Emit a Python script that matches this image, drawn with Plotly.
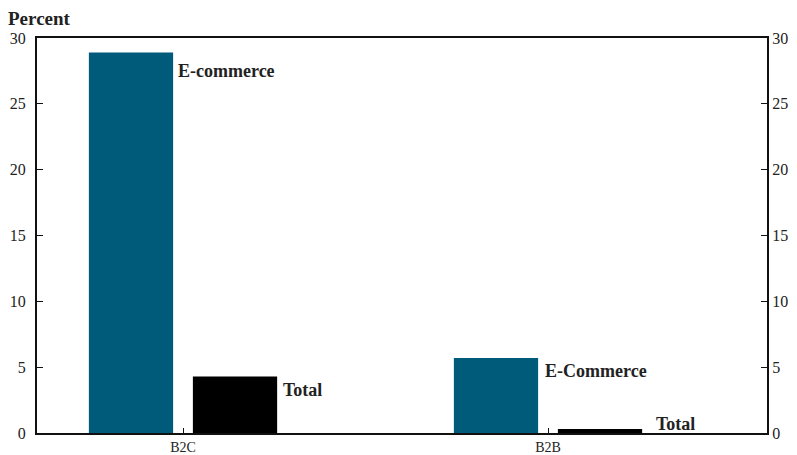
import plotly.graph_objects as go

categories = ["B2C", "B2B"]
ecommerce = [28.9, 5.7]
total = [4.3, 0.3]
bar_labels_ecom = ["E-commerce", "E-Commerce"]
bar_labels_total = ["Total", "Total"]
y_ticks = [0, 5, 10, 15, 20, 25, 30]

TEAL = "#005b7b"
FONT = "Liberation Serif"

fig = go.Figure()
fig.add_trace(go.Bar(x=categories, y=ecommerce, marker_color=TEAL, marker_line_width=0, name="E-commerce"))
fig.add_trace(go.Bar(x=categories, y=total, marker_color="#000000", marker_line_width=0, name="Total"))
fig.add_trace(go.Scatter(x=categories, y=[0, 0], yaxis="y2", mode="none", hoverinfo="skip", showlegend=False))

ann = []
for i, (lab, v) in enumerate(zip(bar_labels_ecom, ecommerce)):
    ann.append(dict(x=i - (0.02 if i == 0 else 0.015), y=v, xref="x", yref="y", text="<b>%s</b>" % lab,
                    showarrow=False, xanchor="left", yanchor="top", yshift=(-7 if i == 0 else -1),
                    font=dict(family=FONT, size=18, color="#222")))
for i, (lab, v) in enumerate(zip(bar_labels_total, total)):
    dx = 0.268 if i == 0 else 0.29
    ann.append(dict(x=i + dx, y=v, xref="x", yref="y", text="<b>%s</b>" % lab, showarrow=False,
                    xanchor="left", yanchor="top", yshift=(-2 if i == 0 else 17),
                    font=dict(family=FONT, size=18, color="#222")))
ann.append(dict(x=-0.042, y=1.05, xref="paper", yref="paper", text="<b>Percent</b>", showarrow=False,
                xanchor="left", yanchor="middle", font=dict(family=FONT, size=19, color="#222")))

# page body has an 8px default margin, so the figure is sized to fit the 797x455 window
fig.update_layout(
    width=789, height=447,
    margin=dict(l=29, r=30, t=30, b=22, autoexpand=False),
    paper_bgcolor="white", plot_bgcolor="white",
    barmode="group", bargap=0.43, bargroupgap=0.19,
    showlegend=False,
    font=dict(family=FONT, size=15, color="#222"),
    annotations=ann,
    xaxis=dict(range=[-0.4, 1.6], showline=True, linecolor="#111", linewidth=2, mirror=True,
               ticks="inside", ticklen=5, tickwidth=1, tickcolor="#111", automargin=False,
               tickfont=dict(family=FONT, size=14, color="#222"), showgrid=False, fixedrange=True),
    yaxis=dict(range=[0, 30], tickvals=y_ticks, showline=True, linecolor="#111", linewidth=2,
               ticks="inside", ticklen=6, tickwidth=1, tickcolor="#111", showgrid=False, zeroline=False,
               automargin=False, ticklabelstandoff=6, tickfont=dict(family=FONT, size=16, color="#222")),
    yaxis2=dict(range=[0, 30], tickvals=y_ticks, overlaying="y", side="right", showline=True,
                linecolor="#111", linewidth=2, ticks="inside", ticklen=6, tickwidth=1, tickcolor="#111",
                showgrid=False, zeroline=False, automargin=False,
                tickfont=dict(family=FONT, size=16, color="#222")),
)

fig.write_html("out.html")
